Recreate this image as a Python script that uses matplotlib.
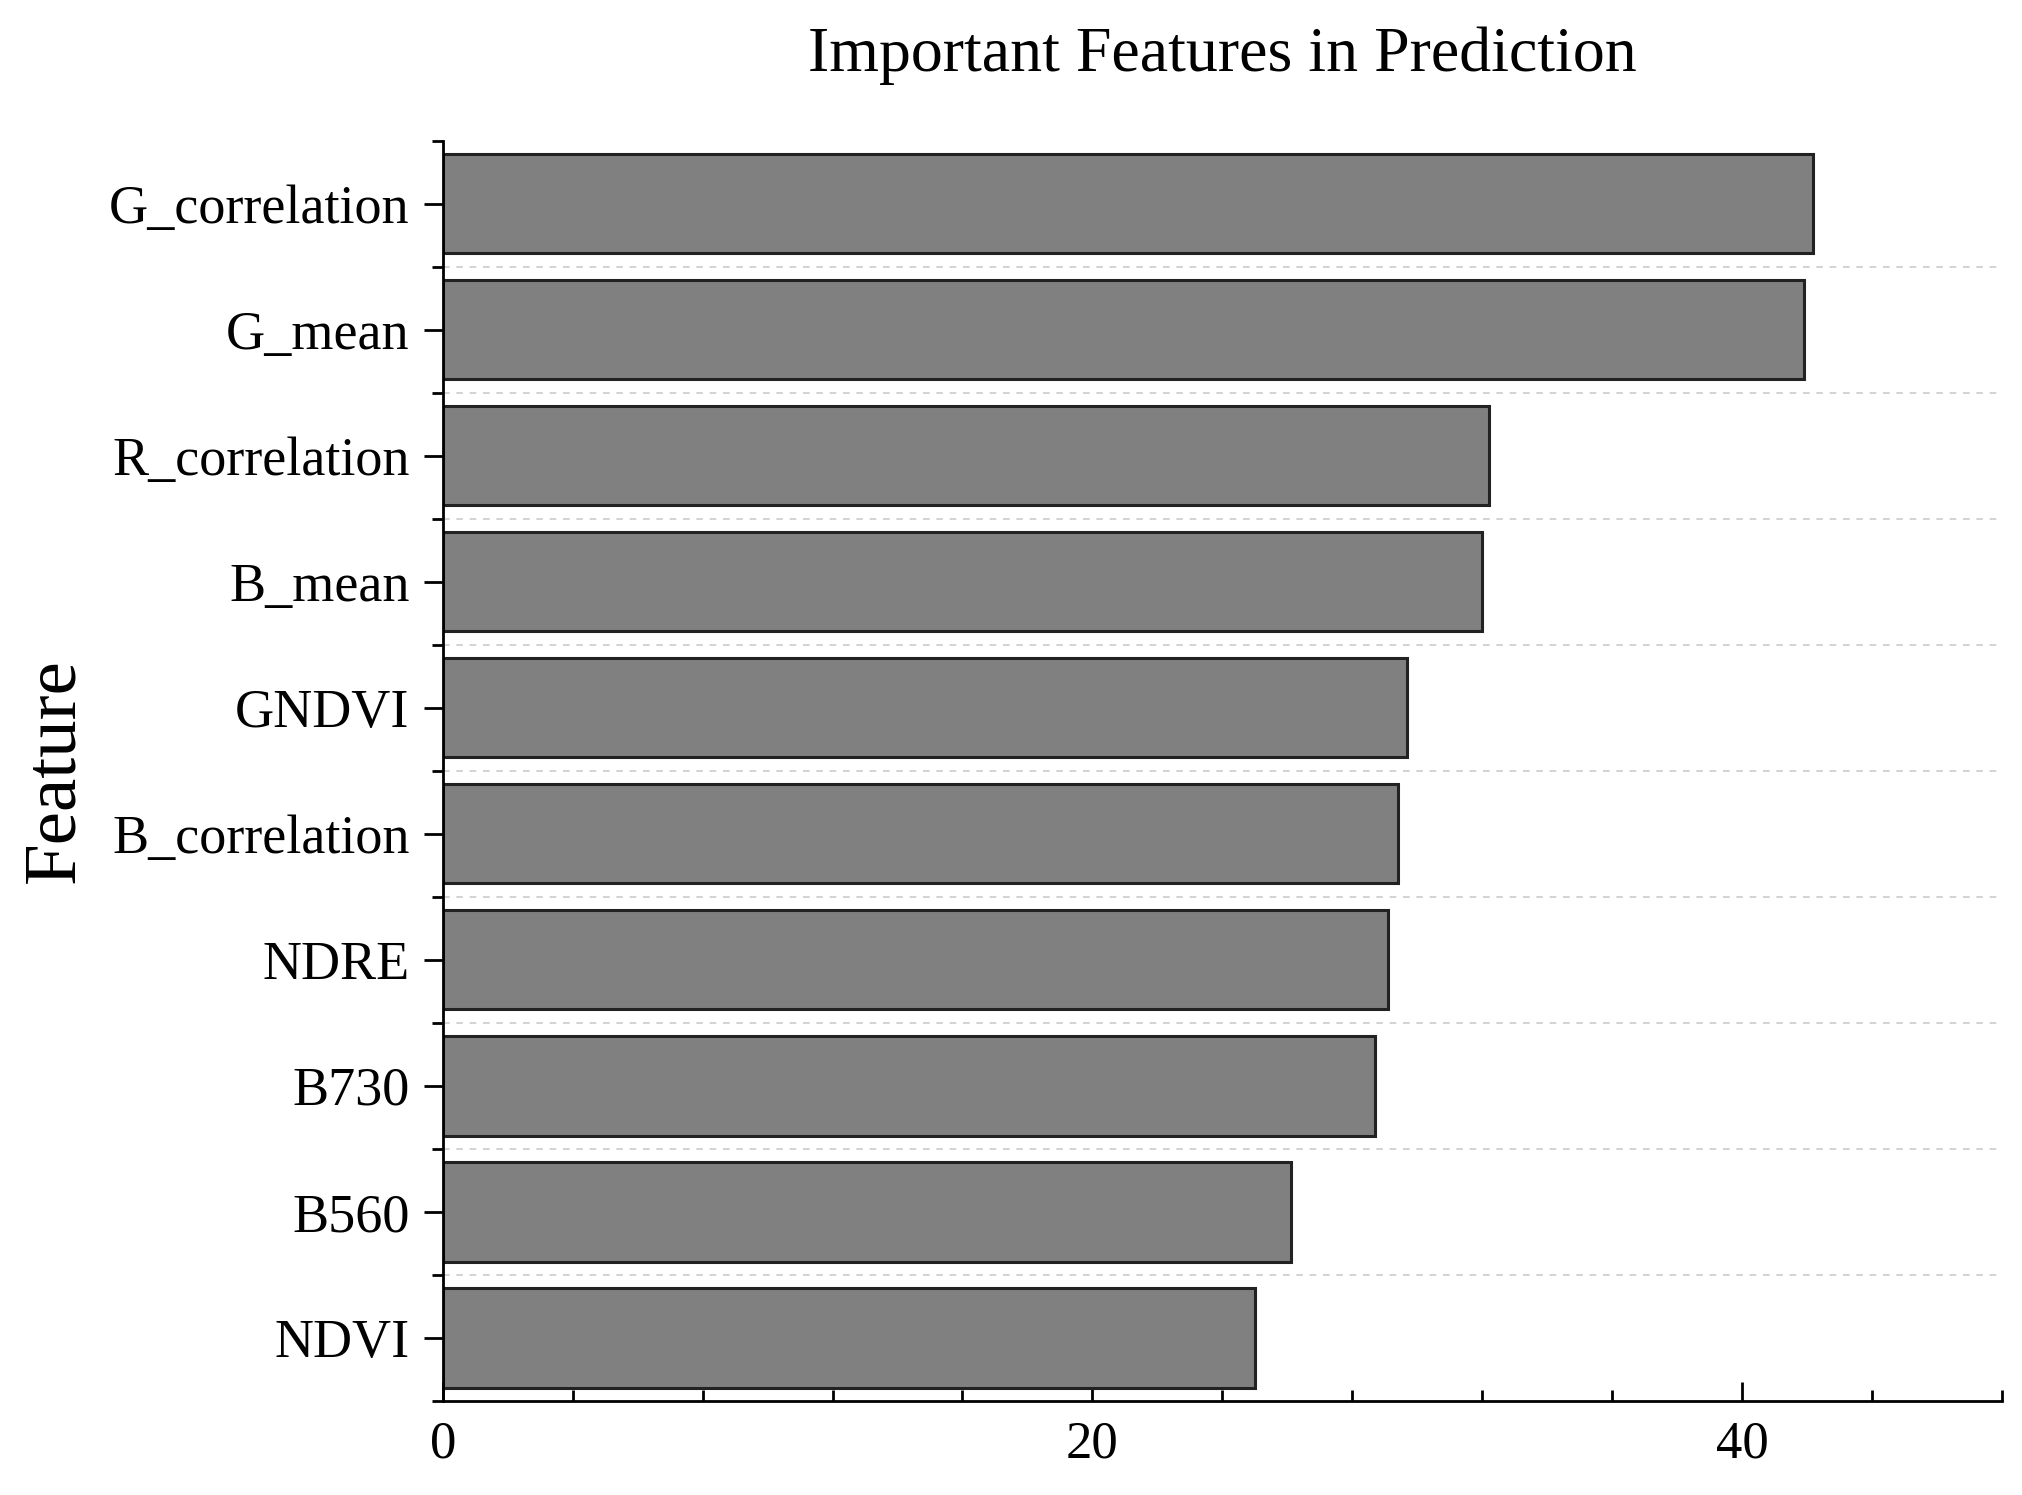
import numpy as np
import matplotlib.pyplot as plt
from matplotlib.ticker import MultipleLocator

features = ['G_correlation', 'G_mean', 'R_correlation', 'B_mean', 'GNDVI',
            'B_correlation', 'NDRE', 'B730', 'B560', 'NDVI']
importance = [42.2, 41.9, 32.2, 32.0, 29.7, 29.4, 29.1, 28.7, 26.1, 25.0]

plt.rcParams['font.family'] = ['Liberation Serif', 'DejaVu Serif']

fig = plt.figure(figsize=(20.22, 14.95), dpi=100)
ax = fig.add_axes([0.219, 0.063, 0.771, 0.843])

y = np.arange(len(features))[::-1]
ax.barh(y, importance, height=0.79, color='#808080', edgecolor='#222222', linewidth=2.2, zorder=2)

# dashed lines between bars
for b in np.arange(0.5, len(features) - 1, 1.0):
    ax.axhline(b, color='#cccccc', linestyle=(0, (4, 4)), linewidth=1.2, zorder=1)

ax.set_yticks(y)
ax.set_yticklabels(features, fontsize=39)
ax.set_yticks(np.arange(-0.5, len(features), 1.0), minor=True)
ax.set_ylim(-0.5, len(features) - 0.5)

ax.set_xlim(0, 48)
ax.xaxis.set_major_locator(MultipleLocator(20))
ax.xaxis.set_minor_locator(MultipleLocator(4))
ax.tick_params(axis='x', which='major', direction='in', length=14, width=2, labelsize=38, pad=14)
ax.tick_params(axis='x', which='minor', direction='in', length=8, width=2)
ax.tick_params(axis='y', which='major', direction='out', length=14, width=2, pad=10)
ax.tick_params(axis='y', which='minor', direction='out', length=8, width=2)

for s in ['top', 'right']:
    ax.spines[s].set_visible(False)
for s in ['left', 'bottom']:
    ax.spines[s].set_linewidth(2)

ax.set_ylabel('Feature', fontsize=54, labelpad=14)
ax.set_title('Important Features in Prediction', fontsize=46, pad=50)

fig.savefig('out.png', dpi=100)
